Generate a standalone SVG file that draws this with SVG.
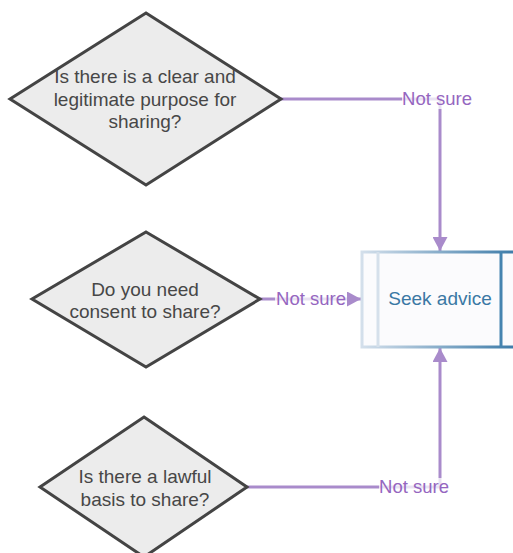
<svg xmlns="http://www.w3.org/2000/svg" width="513" height="553" viewBox="0 0 513 553">
<style>
.dia{fill:#ececec;stroke:#444;stroke-width:3;stroke-linejoin:miter}
.dt{font-family:"Liberation Sans",Arial,sans-serif;font-size:19px;fill:#474747;text-anchor:middle}
.con{fill:none;stroke:#a98bcb;stroke-width:3}
.lbl{font-family:"Liberation Sans",Arial,sans-serif;font-size:18.5px;fill:#9566c0;text-anchor:middle}
.lbg{fill:#fff;fill-opacity:0.75}
</style>
<defs>
<linearGradient id="sg" x1="0" y1="0" x2="1" y2="0">
<stop offset="0" stop-color="#d3dfeb"/>
<stop offset="1" stop-color="#3b7aa8"/>
</linearGradient>
<marker id="ah" viewBox="0 0 14 15" refX="14" refY="7.5" markerWidth="14" markerHeight="15" markerUnits="userSpaceOnUse" orient="auto">
<path d="M0,0 L14,7.5 L0,15 Z" fill="#a98bcb"/>
</marker>
</defs>
<rect width="513" height="553" fill="#fff"/>
<g id="connectors">
<path class="con" d="M281,99 H440 V251" marker-end="url(#ah)"/>
<path class="con" d="M260,299 H361" marker-end="url(#ah)"/>
<path class="con" d="M247,487 H440 V348" marker-end="url(#ah)"/>
<rect class="lbg" x="402" y="90" width="70" height="19"/>
<text class="lbl" x="437" y="105">Not sure</text>
<rect class="lbg" x="275" y="290" width="72" height="19"/>
<text class="lbl" x="311" y="305">Not sure</text>
<rect class="lbg" x="379" y="478" width="70" height="19"/>
<text class="lbl" x="414" y="493">Not sure</text>
</g>
<g id="q1">
<polygon class="dia" points="146,13 281,99 146,185 10,99"/>
<text class="dt" x="145" y="83">Is there is a clear and</text>
<text class="dt" x="145" y="105.5">legitimate purpose for</text>
<text class="dt" x="145" y="128">sharing?</text>
</g>
<g id="q2">
<polygon class="dia" points="146,232 260,299 146,367 32,299"/>
<text class="dt" x="145" y="295.5">Do you need</text>
<text class="dt" x="145" y="318">consent to share?</text>
</g>
<g id="q3">
<polygon class="dia" points="144,417 247,487 144,557 40,487"/>
<text class="dt" x="145" y="483">Is there a lawful</text>
<text class="dt" x="145" y="505.5">basis to share?</text>
</g>
<g id="seek">
<rect x="362" y="252" width="155" height="95" fill="#fbfbfd" stroke="url(#sg)" stroke-width="3"/>
<line x1="378" y1="252" x2="378" y2="347" stroke="#d5e0eb" stroke-width="3"/>
<line x1="501" y1="252" x2="501" y2="347" stroke="#4584b0" stroke-width="3"/>
<text x="440" y="305" font-family="Liberation Sans,Arial,sans-serif" font-size="19" fill="#3a78a4" text-anchor="middle">Seek advice</text>
</g>
</svg>
